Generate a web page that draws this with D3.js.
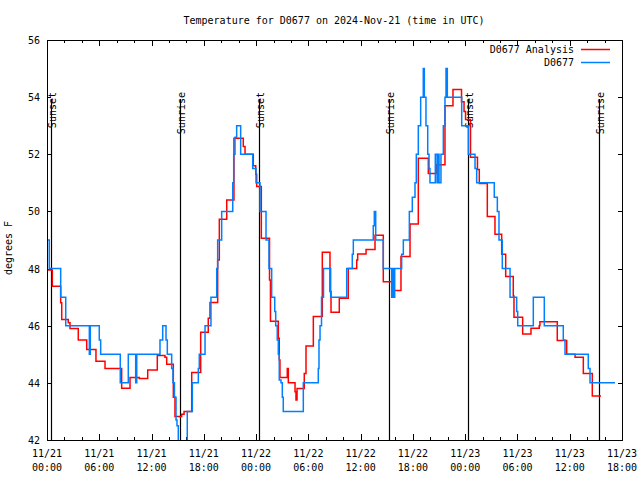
<!DOCTYPE html>
<html>
<head>
<meta charset="utf-8">
<script src="https://cdn.jsdelivr.net/npm/d3@7"></script>
<style>
  html, body { margin: 0; padding: 0; background: #fff; }
  svg { display: block; }
  text { font-family: "DejaVu Sans Mono", monospace; font-size: 10px; fill: #000; }
</style>
</head>
<body>
<svg id="chart" width="640" height="480"></svg>
<script>
// ---- data (hours since 2024-11-21 00:00 UTC) ----
const obsHours = [0.00,0.26,1.57,2.15,4.86,4.97,6.00,6.16,8.41,9.33,10.18,10.30,12.97,13.28,13.66,13.81,14.31,14.46,14.63,14.81,14.92,15.07,
  16.10,16.68,17.37,17.48,18.14,18.82,19.48,19.59,20.05,21.32,21.43,21.58,21.77,22.23,23.61,23.99,24.45,25.14,25.48,25.79,26.14,26.25,26.43,26.55,26.66,26.86,27.01,27.12,
  29.42,31.14,31.22,31.34,31.51,31.74,32.56,34.40,35.04,35.16,37.45,37.57,37.73,38.60,39.57,39.68,39.75,39.91,40.71,40.90,41.59,41.93,42.24,42.39,42.62,42.89,
  43.19,43.31,43.50,43.70,43.85,43.96,44.57,44.77,44.88,45.00,45.22,45.49,45.68,45.80,45.95,47.60,48.36,49.13,49.32,51.34,51.69,51.88,52.26,53.15,53.91,54.03,
  55.82,57.08,59.26,59.46,62.13,62.33,65.20];
const obsTemps = [49,48,47,46,45,46,45.5,45,44,45,44,45,45.5,46,45.5,45,44.5,44,43.5,42.7,42.5,41.5,
  43,44,44.5,45,46,47,48,49,50,51,52,52.6,53,52,51.5,51,50,49,48,47,46.5,46,45.5,45,44.1,44,43.5,43,
  44,44.5,45.5,46,47,48,47,48,48.5,49,49.5,50,49,48,47,48,47,48,48.5,49,50,50.5,51,52,53,54,
  55,54,53,52,51.5,51,52,51,52,51,52,53,54,55,54,53,52,51.5,51,50.5,50,49,48,47,46.5,46,
  47,46,45.5,45,44.5,44,44];

const anaHours = [0.00,0.61,1.57,1.69,2.44,2.64,3.59,4.56,5.62,6.66,8.57,9.53,10.59,11.56,12.66,13.54,13.74,14.50,14.69,15.46,15.73,16.61,17.64,18.51,18.71,
  19.59,19.78,20.63,21.46,22.53,22.73,23.68,23.96,24.07,24.60,25.54,25.65,26.55,26.66,26.74,27.58,27.70,28.47,28.58,28.70,29.53,29.73,30.57,31.60,32.48,32.60,
  33.55,34.58,35.55,35.66,36.62,37.65,38.60,39.75,40.63,41.67,42.62,43.77,44.73,45.68,46.60,47.58,47.87,48.04,48.61,49.41,49.62,50.54,51.42,52.19,52.65,
  53.52,53.60,54.60,55.55,56.50,56.58,58.57,59.65,60.61,61.56,62.59,63.59];
const anaTemps = [47.95,47.38,46.8,46.22,46.1,45.9,45.5,45.17,44.76,44.5,43.81,44.19,44.15,44.45,44.96,44.9,44.65,43.5,42.82,42.9,43.0,44.36,45.77,46.26,46.81,
  48.3,49.73,50.4,52.56,52.27,52.0,51.6,51.3,50.87,49.06,47.6,46.16,45.56,44.8,44.19,44.5,44.0,43.69,43.4,43.8,44.33,45.29,46.32,48.57,47.2,46.47,
  46.96,48.0,48.3,48.51,48.67,49.17,47.54,47.23,48.42,49.56,51.86,51.33,51.63,53.7,54.27,53.84,53.5,53.22,51.9,51.47,50.98,49.82,49.2,48.5,47.72,
  47.04,46.3,45.71,45.91,46.0,46.14,45.48,45.0,44.9,44.33,43.54,43.54];

const sunEvents = [
  {label: "Sunset",  hour: 0.42},
  {label: "Sunrise", hour: 15.32},
  {label: "Sunset",  hour: 24.38},
  {label: "Sunrise", hour: 39.28},
  {label: "Sunset",  hour: 48.36},
  {label: "Sunrise", hour: 63.41}
];
const yTicks = [42,44,46,48,50,52,54,56];
const seriesNames = ["D0677 Analysis", "D0677"];
const seriesColors = ["#ff0000", "#0080ff"];
const titleText = "Temperature for D0677 on 2024-Nov-21 (time in UTC)";
const yLabel = "degrees F";

// ---- layout ----
const base = Date.UTC(2024, 10, 21, 0, 0);
const toDate = h => new Date(base + h * 3600000);
const L = 47, R = 622, T = 40, B = 440;

const x = d3.scaleUtc().domain([toDate(0), toDate(66)]).range([L, R]);
const y = d3.scaleLinear().domain([42, 56]).range([B, T]);

const svg = d3.select("#chart");

svg.append("defs").append("clipPath").attr("id", "plotclip")
  .append("rect").attr("x", L).attr("y", T).attr("width", R - L).attr("height", B - T);

// ticks
const majors = d3.utcHour.every(6).range(toDate(0), toDate(66.01));
const minors = d3.utcHour.every(2).range(toDate(0), toDate(66.01)).filter(d => d.getUTCHours() % 6 !== 0);

function tickAxis(axis, ty) {
  const g = svg.append("g").attr("transform", `translate(0,${ty})`).call(axis);
  g.select(".domain").remove();
  g.selectAll("text").remove();
  g.selectAll("line").attr("stroke", "#000").attr("shape-rendering", "crispEdges");
  return g;
}
tickAxis(d3.axisBottom(x).tickValues(majors).tickSize(-6).tickFormat(""), B);
tickAxis(d3.axisBottom(x).tickValues(minors).tickSize(-3).tickFormat(""), B);
tickAxis(d3.axisTop(x).tickValues(majors).tickSize(-6).tickFormat(""), T);
tickAxis(d3.axisTop(x).tickValues(minors).tickSize(-3).tickFormat(""), T);

function yAxis(axis, tx) {
  const g = svg.append("g").attr("transform", `translate(${tx},0)`).call(axis);
  g.select(".domain").remove();
  g.selectAll("line").attr("stroke", "#000").attr("shape-rendering", "crispEdges");
  return g;
}
const yl = yAxis(d3.axisLeft(y).tickValues(yTicks).tickSize(-4).tickPadding(0).tickFormat(d3.format("d")), L);
yl.selectAll("text").attr("x", -7).attr("dy", "0.35em")
  .style("font-family", '"DejaVu Sans Mono", monospace').style("font-size", "10px");
const yr = yAxis(d3.axisRight(y).tickValues(yTicks).tickSize(-4).tickFormat(""), R);
yr.selectAll("text").remove();

// x labels (two lines)
const xl = svg.append("g");
majors.forEach(d => {
  const t = xl.append("text").attr("text-anchor", "middle");
  t.append("tspan").attr("x", x(d)).attr("y", 457).text(d3.utcFormat("%m/%d")(d));
  t.append("tspan").attr("x", x(d)).attr("y", 470.5).text(d3.utcFormat("%H:%M")(d));
});

// sunrise / sunset lines
sunEvents.forEach(e => {
  const xx = Math.round(x(toDate(e.hour))) + 0.5;
  svg.append("line").attr("x1", xx).attr("x2", xx).attr("y1", 99).attr("y2", B)
    .attr("stroke", "#000").attr("stroke-width", 1.2);
  svg.append("text").attr("text-anchor", "end")
    .attr("transform", `translate(${xx + 4.5},92) rotate(-90)`).text(e.label);
});

// data lines
const line = d3.line().x(d => x(d[0])).y(d => y(d[1])).curve(d3.curveStepAfter);
const anaData = anaHours.map((h, i) => [toDate(h), anaTemps[i]]);
const obsData = obsHours.map((h, i) => [toDate(h), obsTemps[i]]);
const plot = svg.append("g").attr("clip-path", "url(#plotclip)");
plot.append("path").datum(anaData).attr("d", line).attr("fill", "none")
  .attr("stroke", seriesColors[0]).attr("stroke-width", 1.5);
plot.append("path").datum(obsData).attr("d", line).attr("fill", "none")
  .attr("stroke", seriesColors[1]).attr("stroke-width", 1.5);

// border
svg.append("rect").attr("x", L + 0.5).attr("y", T + 0.5).attr("width", R - L).attr("height", B - T)
  .attr("fill", "none").attr("stroke", "#000").attr("stroke-width", 1);

// legend
seriesNames.forEach((n, i) => {
  const ly = 49 + i * 13;
  svg.append("text").attr("x", 574).attr("y", ly + 3.5).attr("text-anchor", "end").text(n);
  svg.append("line").attr("x1", 581).attr("x2", 610).attr("y1", ly + 0.5).attr("y2", ly + 0.5)
    .attr("stroke", seriesColors[i]).attr("stroke-width", 1.5);
});

// title & y label
svg.append("text").attr("x", 334).attr("y", 24).attr("text-anchor", "middle").text(titleText);
svg.append("text").attr("text-anchor", "middle")
  .attr("transform", "translate(12,248) rotate(-90)").text(yLabel);
</script>
</body>
</html>
